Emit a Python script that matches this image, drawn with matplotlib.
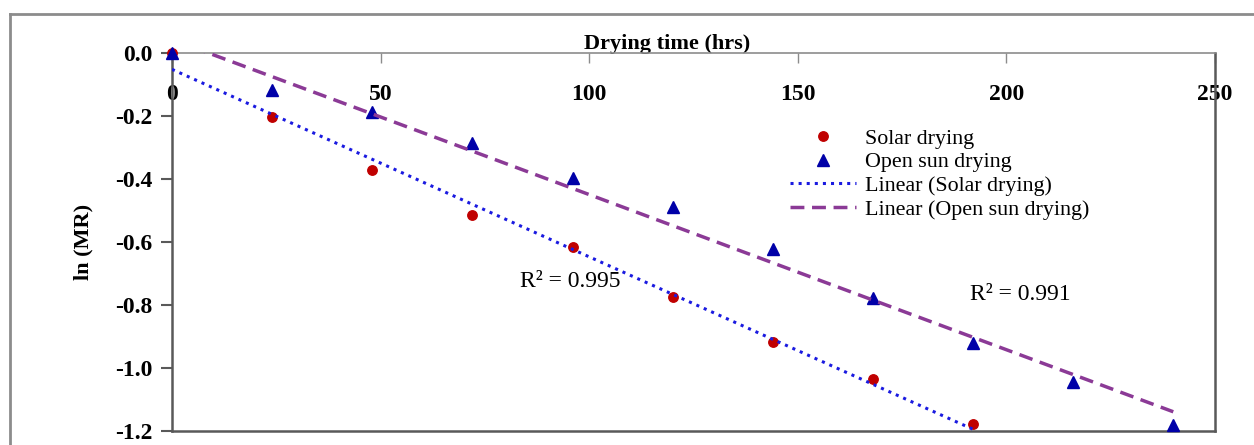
import matplotlib
matplotlib.use('Agg')
import matplotlib.pyplot as plt
from matplotlib.lines import Line2D
import numpy as np

# drying data
time_solar = [0, 24, 48, 72, 96, 120, 144, 168, 192]
ln_mr_solar = [0.0, -0.204, -0.373, -0.515, -0.618, -0.774, -0.917, -1.036, -1.179]
time_open = [0, 24, 48, 72, 96, 120, 144, 168, 192, 216, 240]
ln_mr_open = [-0.003, -0.12, -0.19, -0.288, -0.397, -0.491, -0.624, -0.779, -0.920, -1.044, -1.181]
x_ticks = [0, 50, 100, 150, 200, 250]
y_ticks = [0.0, -0.2, -0.4, -0.6, -0.8, -1.0, -1.2]
r2_solar = '0.995'
r2_open = '0.991'

plt.rcParams['font.family'] = ['Liberation Serif', 'DejaVu Serif']

fig = plt.figure(figsize=(12.54, 4.45), dpi=100)
ax = fig.add_axes([172 / 1254, 14 / 445, 1043 / 1254, 378.5 / 445])

# outer frame of the figure (cut at right/bottom)
frame_col = '#8c8c8c'
fig.add_artist(Line2D([10 / 1254, 10 / 1254], [0, 1 - 14 / 445], transform=fig.transFigure,
                      color=frame_col, lw=2))
fig.add_artist(Line2D([10 / 1254, 1], [1 - 14 / 445, 1 - 14 / 445], transform=fig.transFigure,
                      color=frame_col, lw=2))

ax.plot(time_solar, ln_mr_solar, 'o', color='#C00000', ms=6.8, clip_on=False, zorder=3,
        label='Solar drying')
ax.plot(time_open, ln_mr_open, '^', color='#0000A8', ms=8, clip_on=False, zorder=4,
        label='Open sun drying')

# linear trend lines
k1, b1 = np.polyfit(time_solar, ln_mr_solar, 1)
k2, b2 = np.polyfit(time_open, ln_mr_open, 1)
xs1 = np.array([time_solar[0], time_solar[-1]])
xs2 = np.array([time_open[0], time_open[-1]])
ax.plot(xs1, k1 * xs1 + b1, ':', color='#1a1ae0', lw=2.2, zorder=5,
        label='Linear (Solar drying)')
ax.plot(xs2, k2 * xs2 + b2, '--', color='#8B3A96', lw=2.5, dashes=(4, 2.2), zorder=5,
        label='Linear (Open sun drying)')

ax.set_xlim(0, 250)
ax.set_ylim(-1.2, 0.0)
ax.set_xticks(x_ticks)
ax.set_xticklabels([str(t) for t in x_ticks], fontsize=17, fontweight='bold')
ax.set_yticks(y_ticks)
ax.set_yticklabels(['%.1f' % t for t in y_ticks], fontsize=17, fontweight='bold')

ax.tick_params(axis='x', top=True, bottom=False, labeltop=True, labelbottom=False,
               direction='in', length=7, width=1, color='#8c8c8c', pad=-38)
ax.tick_params(axis='y', direction='out', length=8, width=1.5, color='#595959', pad=6)

for s in ['left', 'bottom', 'right']:
    ax.spines[s].set_color('#595959')
    ax.spines[s].set_linewidth(1.8)
ax.spines['top'].set_color('#8c8c8c')
ax.spines['top'].set_linewidth(1.2)

ax.xaxis.set_label_position('top')
ax.set_xlabel('Drying time (hrs)', fontsize=16, fontweight='bold')
ax.xaxis.set_label_coords(0.475, 1.01)
ax.set_ylabel('ln (MR)', fontsize=16, fontweight='bold')
ax.yaxis.set_label_coords(-0.075, 0.5)

ax.text(83.4, -0.743, 'R² = ' + r2_solar, fontsize=17)
ax.text(191.3, -0.785, 'R² = ' + r2_open, fontsize=17)

ax.legend(loc='upper left', bbox_to_anchor=(0.5925, 0.80), frameon=False, fontsize=15.8,
          handlelength=3.0, handletextpad=0.4, labelspacing=0.15, borderpad=0,
          borderaxespad=0)

fig.savefig('out.png', dpi=100)
